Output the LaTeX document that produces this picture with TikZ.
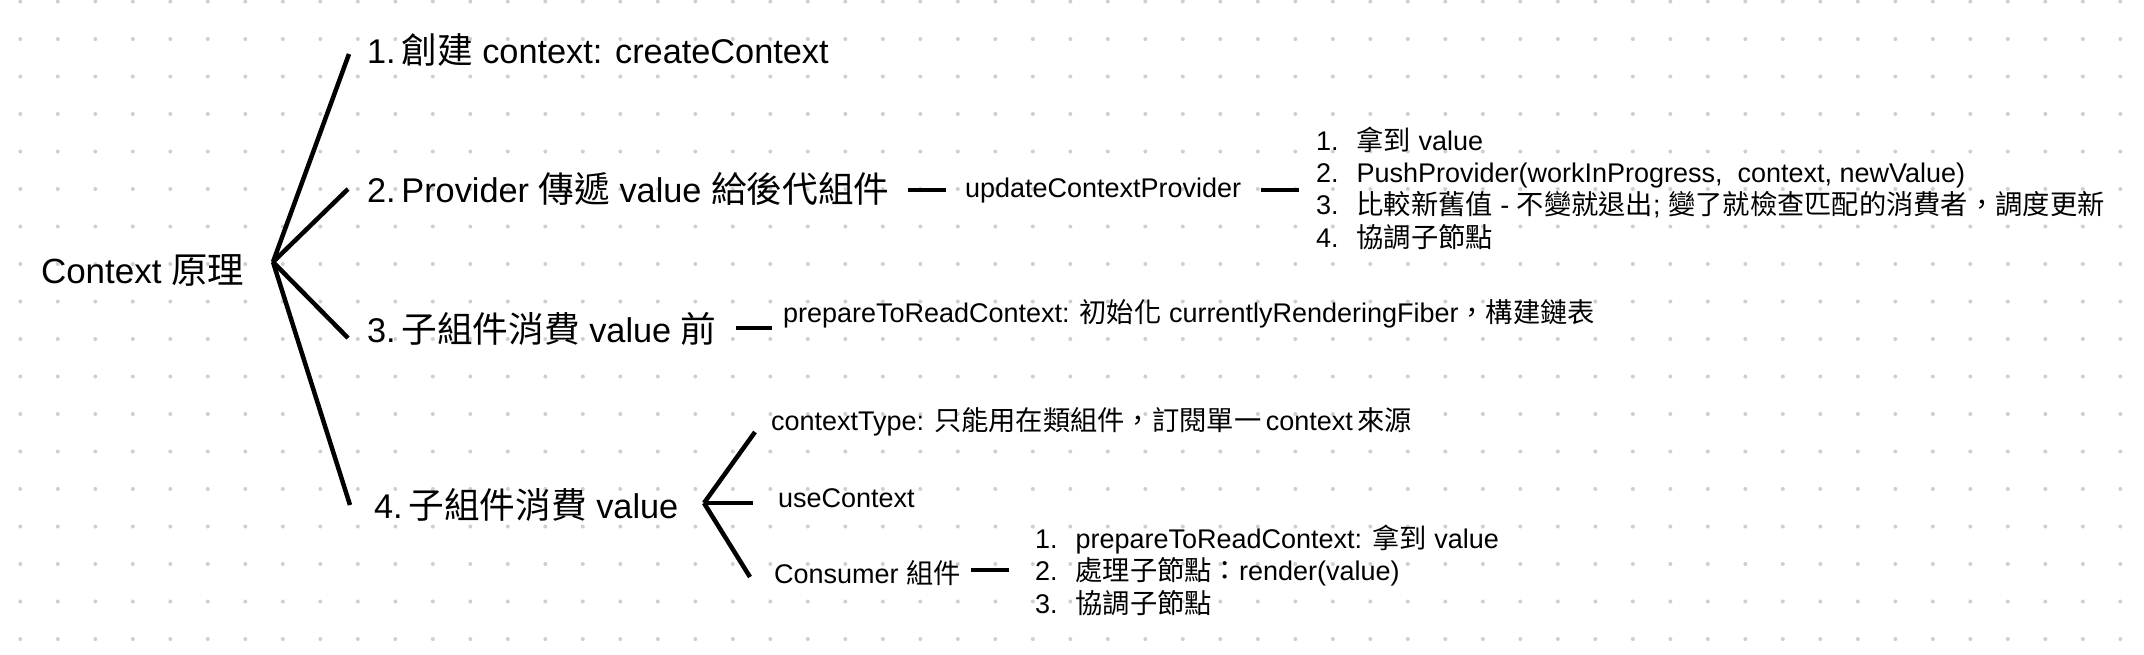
\documentclass[tikz,border=0pt]{standalone}
\usepackage{fontspec}
\setmainfont{Liberation Sans}
\newfontfamily\cjk[Scale=1.04]{Noto Sans CJK TC}
\newfontfamily\cjkm[Scale=1.01]{Noto Sans CJK TC}
\newcommand\zh[1]{{\cjk #1}}
\newcommand\zm[1]{{\cjkm #1}}
\definecolor{dotgrey}{HTML}{CFCFCF}
\tikzset{
  big/.style={inner sep=0pt, outer sep=0pt, anchor=base west, font=\fontsize{34.3}{40}\selectfont},
  mid/.style={inner sep=0pt, outer sep=0pt, anchor=base west, font=\fontsize{27}{32}\selectfont},
  branch/.style={line width=4.5pt, black},
}
\newenvironment{steplist}{\begin{tabular}[t]{@{}l@{\hspace{18pt}}l@{}}}{\end{tabular}}
\begin{document}
\begin{tikzpicture}[x=1pt,y=-1pt]
\useasboundingbox (0,0) rectangle (2144,654);
\fill[white] (0,0) rectangle (2144,654);
% dot grid
\foreach \i in {0,...,56}{
  \foreach \j in {0,...,17}{
    \fill[dotgrey] (20.3+37.5*\i, 1.5+37.5*\j) circle (2pt);
  }
}
% texts
\node[big, font=\fontsize{35}{40}\selectfont] (root) at (41,283) {Context \zh{原理}};
\node[big] (t1) at (367,63) {1.\hspace{0.17em}\zh{創建} context: createContext};
\node[big] (t2) at (367,202) {2.\hspace{0.17em}Provider \zh{傳遞} value \zh{給後代組件}};
\node[big] (t3) at (367,342) {3.\hspace{0.17em}\zh{子組件消費} value \zh{前}};
\node[big] (t4) at (374,518) {4.\hspace{0.17em}\zh{子組件消費} value};
\node[mid] (upd) at (965,197) {updateContextProvider};
\node[mid] (list1) at (1316,150) {\fontsize{27}{32}\selectfont\begin{steplist}
1. & \zm{拿到} value\\
2. & PushProvider(workInProgress,\ \ context, newValue)\\
3. & \zm{比較新舊值} - \zm{不變就退出}; \zm{變了就檢查匹配的消費者，調度更新}\\
4. & \zm{協調子節點}
\end{steplist}};
\node[mid] (prep) at (783,322) {prepareToReadContext: \zm{初始化} currentlyRenderingFiber\zm{，構建鏈表}};
\node[mid] (ctype) at (771,430) {contextType: \zm{只能用在類組件，訂閱單一}\,context\,\zm{來源}};
\node[mid] (use) at (778,507) {useContext};
\node[mid] (cons) at (774,583) {Consumer \zm{組件}};
\node[mid] (list2) at (1035,548) {\fontsize{27}{32}\selectfont\begin{steplist}
1. & prepareToReadContext: \zm{拿到} value\\
2. & \zm{處理子節點：}render(value)\\
3. & \zm{協調子節點}
\end{steplist}};
% connector coordinates
\coordinate (hub) at (273,262);
\coordinate (e1) at (349,54);
\coordinate (e2) at (348,189);
\coordinate (e3) at (348,338);
\coordinate (e4) at (350,505);
\coordinate (hub4) at (704,503);
\coordinate (f1) at (755,432);
\coordinate (f2) at (753,503);
\coordinate (f3) at (750,577);
\coordinate (d1a) at (908,190); \coordinate (d1b) at (946,190);
\coordinate (d2a) at (1261,190); \coordinate (d2b) at (1299,190);
\coordinate (d3a) at (736,328); \coordinate (d3b) at (772,328);
\coordinate (d4a) at (971,570); \coordinate (d4b) at (1009,570);
\draw[branch] (hub) -- (e1);
\draw[branch] (hub) -- (e2);
\draw[branch] (hub) -- (e3);
\draw[branch] (hub) -- (e4);
\draw[branch] (hub4) -- (f1);
\draw[branch] (hub4) -- (f2);
\draw[branch] (hub4) -- (f3);
\draw[branch] (d1a) -- (d1b);
\draw[branch] (d2a) -- (d2b);
\draw[branch] (d3a) -- (d3b);
\draw[branch] (d4a) -- (d4b);
\end{tikzpicture}
\end{document}
